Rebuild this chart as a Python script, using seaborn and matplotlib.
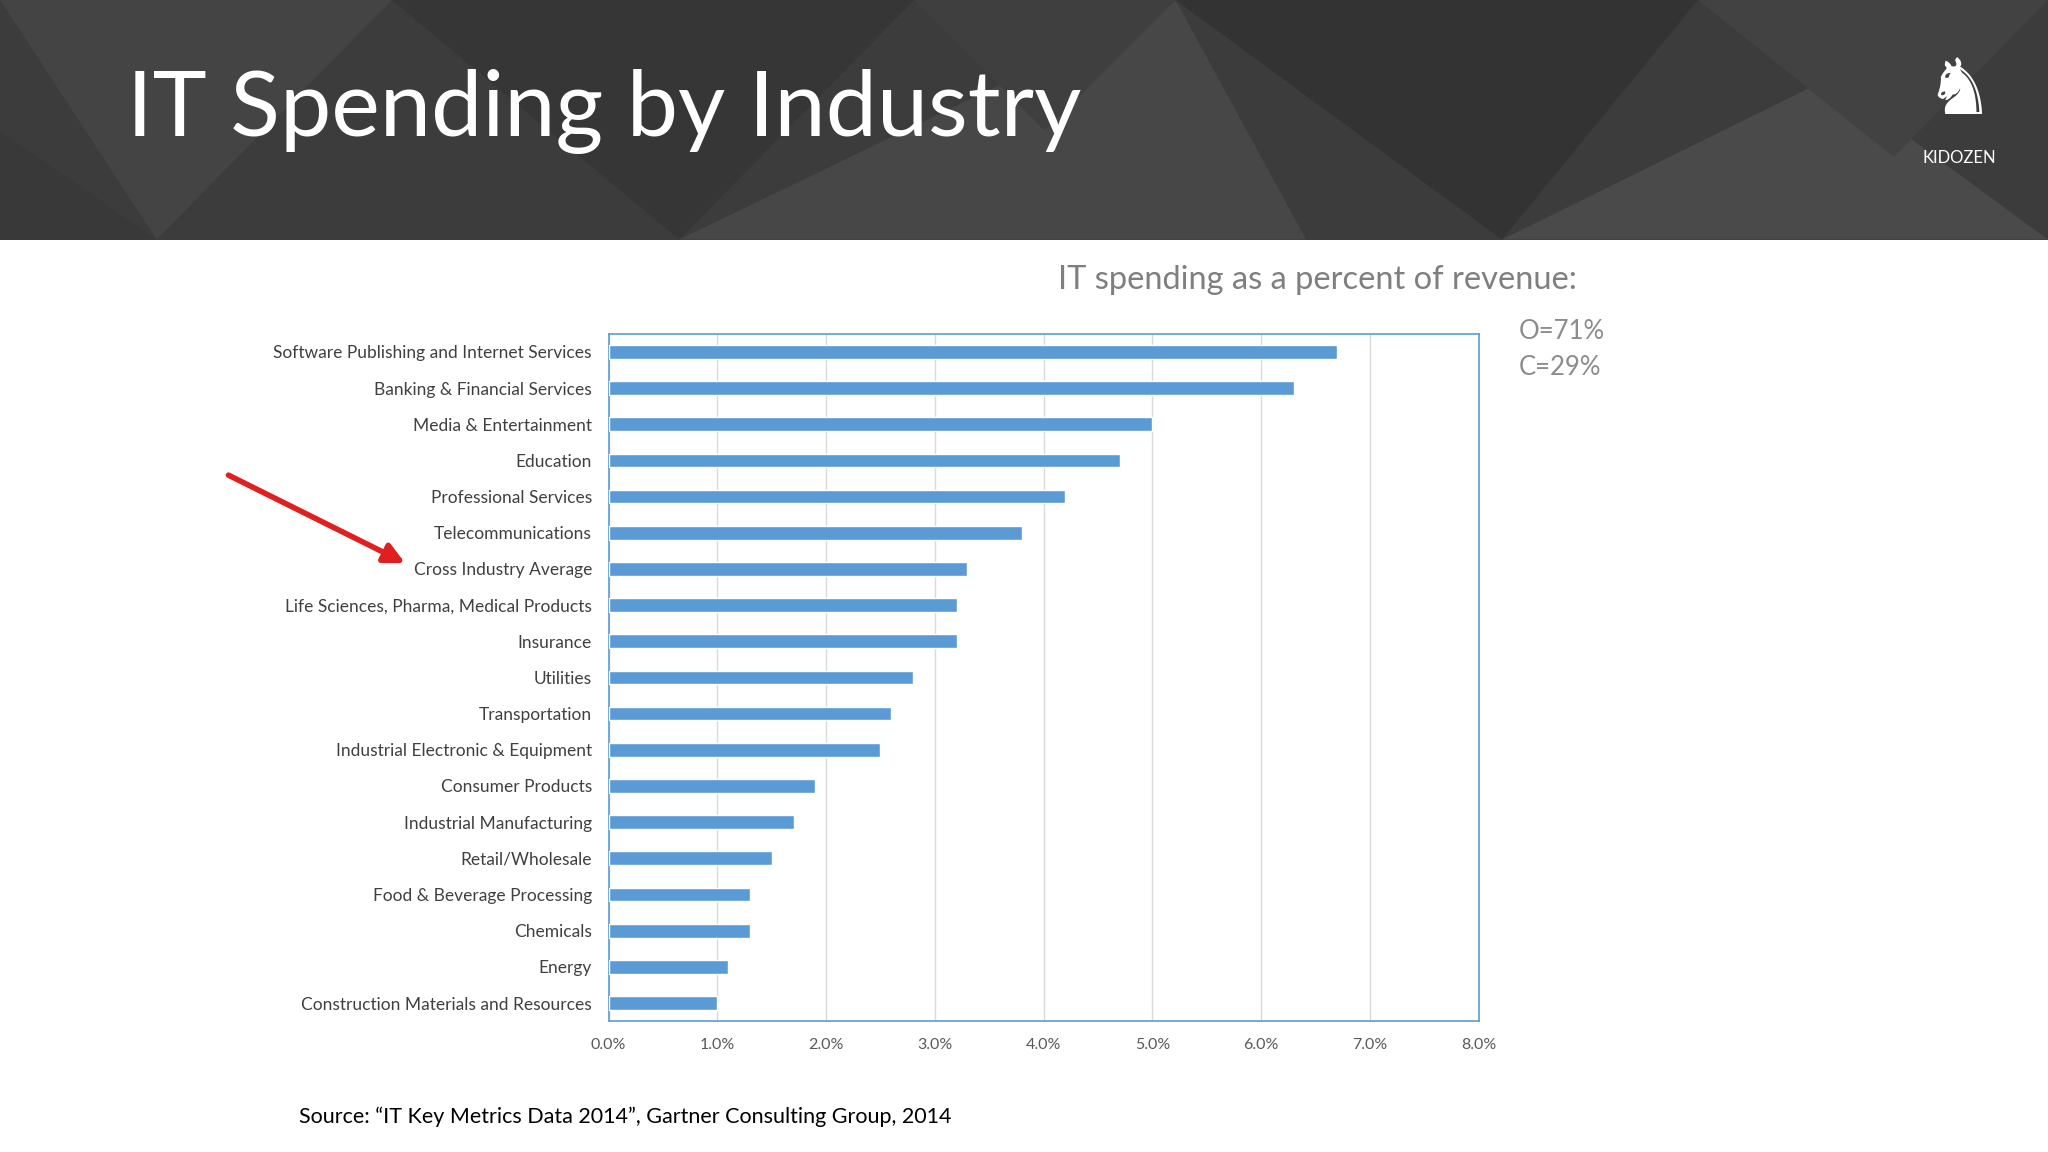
import matplotlib
matplotlib.use("Agg")
import matplotlib.pyplot as plt
import seaborn as sns
import pandas as pd
from matplotlib.patches import Polygon, Rectangle, FancyArrowPatch

industries = ["Software Publishing and Internet Services", "Banking & Financial Services",
              "Media & Entertainment", "Education", "Professional Services",
              "Telecommunications", "Cross Industry Average",
              "Life Sciences, Pharma, Medical Products", "Insurance", "Utilities",
              "Transportation", "Industrial Electronic & Equipment", "Consumer Products",
              "Industrial Manufacturing", "Retail/Wholesale", "Food & Beverage Processing",
              "Chemicals", "Energy", "Construction Materials and Resources"]
values = [6.7, 6.3, 5.0, 4.7, 4.2, 3.8, 3.3, 3.2, 3.2, 2.8, 2.6, 2.5, 1.9, 1.7, 1.5, 1.3, 1.3, 1.1, 1.0]
x_ticks = [0, 1, 2, 3, 4, 5, 6, 7, 8]

sns.set_theme(style="white")
plt.rcParams['font.family'] = ['Lato', 'DejaVu Sans']

fig = plt.figure(figsize=(20.48, 11.52), dpi=100)
W, H = 1568, 880
def fx(x): return x / W
def fy(y): return 1 - y / H

# header band
hdr = fig.add_axes([0, fy(183), 1, 183 / H])
hdr.set_xlim(0, W); hdr.set_ylim(183, 0); hdr.axis("off")
hdr.add_patch(Rectangle((0, 0), W, 183, color="#3c3c3c"))
tris = [([(0, 0), (300, 0), (120, 183)], "#444444"),
        ([(300, 0), (700, 0), (520, 183)], "#363636"),
        ([(520, 183), (900, 0), (1000, 183)], "#474747"),
        ([(900, 0), (1300, 0), (1150, 183)], "#333333"),
        ([(1150, 183), (1400, 60), (1568, 183)], "#4a4a4a"),
        ([(1300, 0), (1568, 0), (1450, 120)], "#424242"),
        ([(0, 100), (120, 183), (0, 183)], "#393939"),
        ([(700, 0), (900, 0), (800, 100)], "#3f3f3f")]
for pts, c in tris:
    hdr.add_patch(Polygon(pts, closed=True, color=c, lw=0))
fig.text(fx(97), fy(85), "IT Spending by Industry", color="white", fontsize=66, va="center", ha="left")
fig.text(fx(1500), fy(121), "KIDOZEN", color="white", fontsize=12, ha="center", va="center")
fig.text(fx(1500), fy(70), "♞", color="white", fontsize=56, ha="center", va="center", family=['DejaVu Sans'])

df = pd.DataFrame({"industry": industries, "value": values})
ax = fig.add_axes([fx(466), fy(780), fx(1132) - fx(466), (780 - 255) / H])
sns.barplot(data=df, y="industry", x="value", orient="h", color="#5b9bd5", width=0.38,
            saturation=1, ax=ax, zorder=3)
ax.set_xlim(0, 8)
ax.set_xticks(x_ticks)
ax.set_xticklabels([f"{t:.1f}%" for t in x_ticks], fontsize=11.5, color="#595959")
ax.tick_params(axis="y", labelsize=12.5, labelcolor="#404040", length=0, pad=12)
ax.tick_params(axis="x", length=0, pad=12)
ax.set_xlabel(""); ax.set_ylabel("")
ax.grid(axis="x", color="#d9d9d9", lw=1, zorder=0)
for s in ax.spines.values():
    s.set_visible(True); s.set_color("#5b9bd5"); s.set_linewidth(1.2)

fig.text(fx(810), fy(214), "IT spending as a percent of revenue:", fontsize=23.5, color="#7f7f7f", va="center")
fig.text(fx(1163), fy(253), "O=71%", fontsize=18.5, color="#8c8c8c", va="center")
fig.text(fx(1163), fy(281), "C=29%", fontsize=18.5, color="#8c8c8c", va="center")
fig.text(fx(229), fy(853), "Source: \u201cIT Key Metrics Data 2014\u201d, Gartner Consulting Group, 2014",
         fontsize=15.5, color="black", va="center")

arr = FancyArrowPatch((fx(173), fy(362)), (fx(312), fy(431)), transform=fig.transFigure,
                      arrowstyle="-|>,head_length=12,head_width=6", color="#e02020", lw=4)
fig.patches.append(arr)

fig.savefig("out.png", dpi=100, facecolor="white")
